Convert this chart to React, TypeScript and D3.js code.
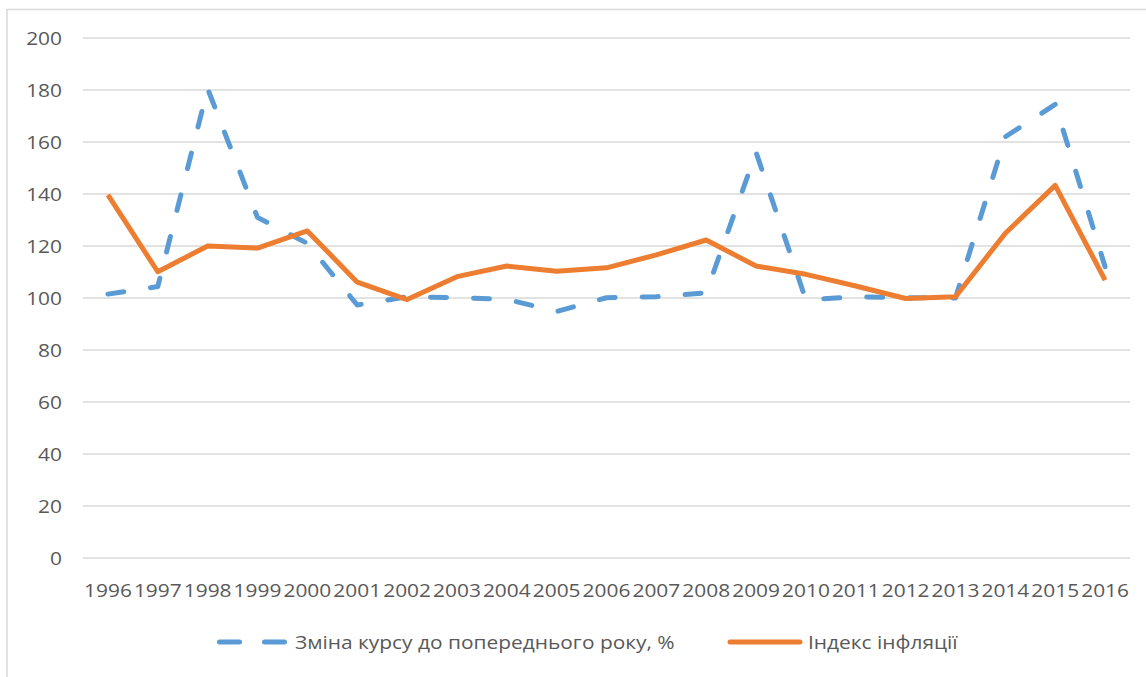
import React from 'react';
import * as d3 from 'd3';

const years = ['1996', '1997', '1998', '1999', '2000', '2001', '2002', '2003', '2004', '2005', '2006',
  '2007', '2008', '2009', '2010', '2011', '2012', '2013', '2014', '2015', '2016'];

// Зміна курсу до попереднього року, %
const rateChange = [101.5, 104.4, 180.5, 131, 121, 97.3, 100.5, 100.1, 99.5, 94.8, 100.1,
  100.5, 102, 156, 99.2, 100.5, 100.1, 100, 162, 174.5, 112];

// Індекс інфляції
const inflation = [139.7, 110.1, 120.0, 119.2, 125.8, 106.1, 99.4, 108.2, 112.3, 110.3, 111.6,
  116.6, 122.3, 112.3, 109.1, 104.6, 99.8, 100.5, 124.9, 143.3, 106.9];

const yTicks = [0, 20, 40, 60, 80, 100, 120, 140, 160, 180, 200];

const seriesNames = ['Зміна курсу до попереднього року, %', 'Індекс інфляції'];

const W = 1146;
const H = 677;
const BLUE = '#5b9bd5';
const ORANGE = '#ed7d31';
const GRID = '#d9d9d9';
const TEXT = '#595959';
const FONT = '"Open Sans", "Noto Sans", sans-serif';
const SX = 1.1;

function Label({ x, y, anchor, children }: { x: number; y: number; anchor: string; children: React.ReactNode }) {
  return (
    <g transform={`translate(${x},${y}) scale(${SX},1)`}>
      <text x={0} y={0} textAnchor={anchor} fontFamily={FONT} fontSize={19} fill={TEXT}>
        {children}
      </text>
    </g>
  );
}

export default function App() {
  const x = d3.scaleBand<string>().domain(years).range([83, 1130]).padding(0);
  const y = d3.scaleLinear().domain([0, 200]).range([558, 38]);
  const cx = (d: string) => (x(d) ?? 0) + x.bandwidth() / 2;

  const line = d3.line<number>()
    .x((_, i) => cx(years[i]))
    .y((v) => y(v));

  return (
    <svg width={W} height={H} style={{ position: 'absolute', left: 0, top: 0, background: '#fff' }}>
      <rect x={7} y={9.5} width={W + 20} height={H + 20} fill="#fff" stroke={GRID} strokeWidth={1.5} />

      {yTicks.map((t) => (
        <g key={t}>
          <line x1={83} x2={1130} y1={y(t)} y2={y(t)} stroke={GRID} strokeWidth={1.5} />
          <Label x={62} y={y(t) + 6.5} anchor="end">{t}</Label>
        </g>
      ))}

      {years.map((yr) => (
        <Label key={yr} x={cx(yr)} y={597} anchor="middle">{yr}</Label>
      ))}

      <path d={line(rateChange) ?? ''} fill="none" stroke={BLUE} strokeWidth={5}
        strokeDasharray="16 27" strokeLinecap="round" strokeLinejoin="round" />
      <path d={line(inflation) ?? ''} fill="none" stroke={ORANGE} strokeWidth={5}
        strokeLinejoin="round" />

      {/* legend */}
      <line x1={219.5} x2={285} y1={642} y2={642} stroke={BLUE} strokeWidth={5}
        strokeDasharray="20 25" strokeLinecap="round" />
      <Label x={295} y={649} anchor="start">{seriesNames[0]}</Label>
      <line x1={730} x2={800} y1={642} y2={642} stroke={ORANGE} strokeWidth={5} strokeLinecap="round" />
      <Label x={808} y={649} anchor="start">{seriesNames[1]}</Label>
    </svg>
  );
}
